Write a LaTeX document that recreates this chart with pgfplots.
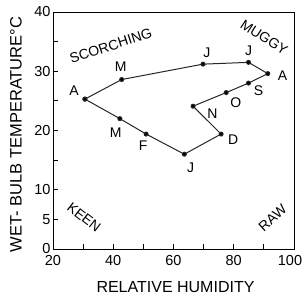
\documentclass[border=0pt]{standalone}
\usepackage{pgfplots}
\pgfplotsset{compat=1.18}
\usepackage{fontspec}
\setmainfont{Liberation Sans}
\begin{document}
\begin{tikzpicture}
\begin{axis}[
  name=ax,
  scale only axis,
  width=241pt, height=237pt,
  xmin=20, xmax=100, ymin=0, ymax=40,
  xtick={20,40,60,80,100},
  xticklabels={20,40,60,80,\hspace*{-8pt}100},
  minor xtick={30,50,70,90},
  ytick={0,5,10,20,30,40},
  minor ytick={15,25,35},
  tick align=inside,
  xtick pos=bottom, ytick pos=left,
  major tick length=5pt, minor tick length=5pt,
  every tick/.style={black, line width=0.9pt},
  axis line style={line width=0.9pt},
  /pgf/number format/assume math mode=true,
  tick label style={font=\fontsize{14.5}{16}\selectfont},
  yticklabel style={xshift=1pt},
  xticklabel style={yshift=-3pt},
  xlabel={RELATIVE HUMIDITY},
  ylabel={WET- BULB TEMPERATURE°C},
  xlabel style={font=\fontsize{16}{18}\selectfont, at={(axis description cs:0.5,0)}, anchor=center, yshift=-38pt, xshift=2pt},
  ylabel style={font=\fontsize{16.5}{18}\selectfont, at={(axis description cs:0,0.5)}, anchor=center, yshift=37pt, xshift=-4pt},
  clip=false,
]
\addplot[black!85, line width=1pt, mark=*, mark size=2pt, mark options={fill=black}] coordinates {
(30.6,25.3) (42.8,28.6) (69.8,31.2) (84.9,31.5) (91.3,29.6) (84.9,28.0) (77.5,26.4) (66.5,24.1) (75.8,19.4) (63.6,16.0) (50.9,19.4) (42.2,22.0) (30.6,25.3)
};
\begin{scope}[font=\fontsize{14}{16}\selectfont]
\node at (axis cs:27.0,26.7) {A};
\node at (axis cs:42.5,30.7) {M};
\node at (axis cs:71.1,33.1) {J};
\node at (axis cs:84.9,33.4) {J};
\node at (axis cs:96.2,29.3) {A};
\node at (axis cs:88.2,26.8) {S};
\node at (axis cs:80.7,24.7) {O};
\node at (axis cs:72.9,22.9) {N};
\node at (axis cs:79.8,18.4) {D};
\node at (axis cs:65.7,13.7) {J};
\node at (axis cs:49.9,17.5) {F};
\node at (axis cs:40.8,19.7) {M};
\node[rotate=18] at (axis cs:39.2,34.3) {SCORCHING};
\node[rotate=-33] at (axis cs:90.1,35.7) {MUGGY};
\node[rotate=-38] at (axis cs:30.3,5.35) {KEEN};
\node[rotate=42] at (axis cs:92.9,5.2) {RAW};
\end{scope}
\end{axis}
\pgfresetboundingbox
\useasboundingbox (ax.south west) ++(-53pt,-51pt) rectangle ++(303pt,300pt);
\end{tikzpicture}
\end{document}
